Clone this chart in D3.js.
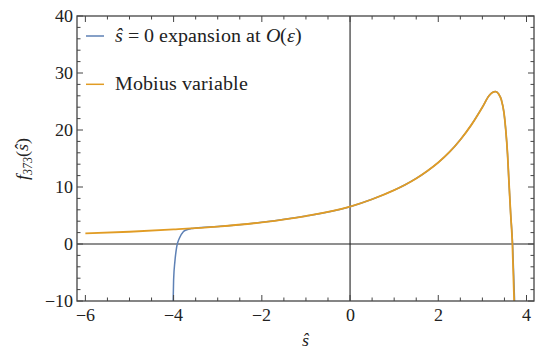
<!DOCTYPE html>
<html>
<head>
<meta charset="utf-8">
<script src="https://cdn.jsdelivr.net/npm/d3@7"></script>
<style>
  @font-face { font-family: "PlotSerif"; font-style: normal; src: local("Liberation Serif"), local("LiberationSerif"), local("Liberation Serif Regular"); }
  @font-face { font-family: "PlotSerif"; font-style: italic; src: local("Liberation Serif Italic"), local("LiberationSerif-Italic"); }
</style>
</head>
<body style="margin:0">
<svg id="chart" width="535" height="351"></svg>
<script>
// Mobius variable curve
var mobiusS = [-6, -5, -4, -3, -2, -1, 0, 0.5, 1, 1.25, 1.5, 1.75, 2, 2.25, 2.5, 2.75, 3, 3.15, 3.22, 3.3, 3.37, 3.43, 3.49, 3.53, 3.57, 3.6, 3.64, 3.68, 3.72];
var mobiusF = [1.88, 2.15, 2.55, 3.05, 3.8, 4.9, 6.55, 7.85, 9.45, 10.4, 11.5, 12.8, 14.3, 16.1, 18.3, 20.9, 24.0, 26.0, 26.55, 26.75, 26.3, 25.3, 23.0, 20.0, 15.8, 11.2, 5.4, 0, -10];

// s = 0 expansion curve
var expS = [-4.01, -4.0, -3.97, -3.93, -3.87, -3.78, -3.7, -3.6, -3.5, -3, -2, -1, 0, 0.5, 1, 1.25, 1.5, 1.75, 2, 2.25, 2.5, 2.75, 3, 3.15, 3.22, 3.3, 3.37, 3.43, 3.49, 3.53, 3.57, 3.6, 3.64, 3.685, 3.73];
var expF = [-10, -6.3, -3, -0.5, 1.0, 2.16, 2.5, 2.7, 2.8, 3.05, 3.8, 4.9, 6.55, 7.85, 9.45, 10.4, 11.5, 12.8, 14.3, 16.1, 18.3, 20.9, 24.0, 26.0, 26.55, 26.75, 26.3, 25.3, 23.0, 20.0, 15.8, 11.2, 5.4, 0, -10];

var xMajor = [-6, -4, -2, 0, 2, 4];
var yMajor = [-10, 0, 10, 20, 30, 40];
var legendLabels = ["\u015D = 0 expansion at O(\u03B5)", "Mobius variable"];
var colors = ["#5E81B5", "#E19C24"];

var FONT = "PlotSerif, 'Liberation Serif', 'Times New Roman', 'Noto Serif'";

var svg = d3.select("#chart");

var x = d3.scaleLinear().domain([-6.19, 4.17]).range([77, 534]);
var y = d3.scaleLinear().domain([-10, 40]).range([301, 16]);

var x0 = 77, x1 = 534, y0 = 301, y1 = 16;

svg.append("clipPath").attr("id", "clip")
   .append("rect").attr("x", x0).attr("y", y1).attr("width", x1 - x0).attr("height", y0 - y1);

// axes through origin
svg.append("line")
   .attr("x1", x0).attr("x2", x1).attr("y1", y(0)).attr("y2", y(0))
   .attr("stroke", "#6a6a6a").attr("stroke-width", 1.4);
svg.append("line")
   .attr("x1", x(0)).attr("x2", x(0)).attr("y1", y1).attr("y2", y0)
   .attr("stroke", "#222").attr("stroke-width", 1.1);

// curves
var line = d3.line()
   .x(function(d) { return x(d[0]); })
   .y(function(d) { return y(d[1]); })
   .curve(d3.curveMonotoneX);

var g = svg.append("g").attr("clip-path", "url(#clip)");

g.append("path")
 .datum(expS.map(function(s, i) { return [s, expF[i]]; }))
 .attr("d", line)
 .attr("fill", "none")
 .attr("stroke", colors[0])
 .attr("stroke-width", 1.5);

g.append("path")
 .datum(mobiusS.map(function(s, i) { return [s, mobiusF[i]]; }))
 .attr("d", line)
 .attr("fill", "none")
 .attr("stroke", colors[1])
 .attr("stroke-width", 1.8);

// frame
svg.append("rect")
   .attr("x", x0).attr("y", y1).attr("width", x1 - x0).attr("height", y0 - y1)
   .attr("fill", "none").attr("stroke", "#444").attr("stroke-width", 1.3);

// ticks (inward, on all four sides)
var ticks = svg.append("g").attr("stroke", "#444").attr("stroke-width", 1);

x.ticks(20).forEach(function(t) {
    var len = xMajor.indexOf(t) >= 0 ? 6 : 3.5;
    ticks.append("line").attr("x1", x(t)).attr("x2", x(t)).attr("y1", y0).attr("y2", y0 - len);
    ticks.append("line").attr("x1", x(t)).attr("x2", x(t)).attr("y1", y1).attr("y2", y1 + len);
});
y.ticks(25).forEach(function(t) {
    var len = yMajor.indexOf(t) >= 0 ? 6 : 3.5;
    ticks.append("line").attr("y1", y(t)).attr("y2", y(t)).attr("x1", x0).attr("x2", x0 + len);
    ticks.append("line").attr("y1", y(t)).attr("y2", y(t)).attr("x1", x1).attr("x2", x1 - len);
});

var fmt = d3.format("d");

xMajor.forEach(function(d) {
    svg.append("text")
       .attr("x", x(d)).attr("y", 321)
       .attr("text-anchor", "middle")
       .attr("font-size", 18)
       .attr("fill", "#222")
       .style("font-family", FONT)
       .text(fmt(d));
});

yMajor.forEach(function(d) {
    svg.append("text")
       .attr("x", 73).attr("y", y(d) + 6)
       .attr("text-anchor", "end")
       .attr("font-size", 18)
       .attr("fill", "#222")
       .style("font-family", FONT)
       .text(fmt(d));
});

// axis labels
svg.append("text")
   .attr("x", (x0 + x1) / 2).attr("y", 346)
   .attr("text-anchor", "middle")
   .attr("font-size", 18)
   .attr("font-style", "italic")
   .attr("fill", "#222")
   .style("font-family", FONT)
   .text("\u015D");

var yl = svg.append("text")
   .attr("transform", "translate(28,159) rotate(-90)")
   .attr("text-anchor", "middle")
   .attr("font-size", 18)
   .attr("fill", "#222")
   .style("font-family", FONT);
yl.append("tspan").attr("font-style", "italic").text("f");
yl.append("tspan").attr("font-style", "italic").attr("font-size", 12).attr("dy", 4).text("373");
yl.append("tspan").attr("dy", -4).text("(");
yl.append("tspan").attr("font-style", "italic").text("\u015D");
yl.append("tspan").text(")");

// legend
legendLabels.forEach(function(d, i) {
    var ly = 36 + i * 48.3;
    svg.append("line")
       .attr("x1", 86).attr("x2", 104).attr("y1", ly).attr("y2", ly)
       .attr("stroke", colors[i])
       .attr("stroke-width", 1.5);
    var t = svg.append("text")
       .attr("x", 115).attr("y", ly + 6)
       .attr("font-size", 20)
       .attr("fill", "#222")
       .style("font-family", FONT);
    if (i === 0) {
        t.append("tspan").attr("font-style", "italic").text("\u015D");
        t.append("tspan").text(" = 0 expansion at ");
        t.append("tspan").attr("font-style", "italic").text("O");
        t.append("tspan").text("(");
        t.append("tspan").attr("font-style", "italic").text("\u03B5");
        t.append("tspan").text(")");
    } else {
        t.text(d);
    }
});
</script>
</body>
</html>
